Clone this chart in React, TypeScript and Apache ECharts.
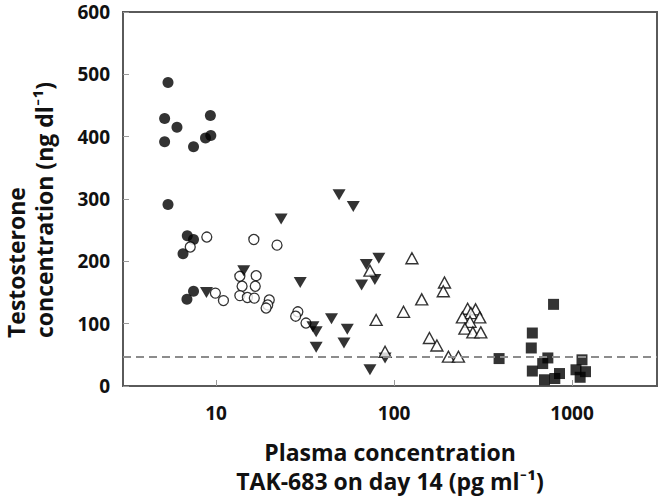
import React, { useEffect, useRef } from 'react';
import * as echarts from 'echarts';

// tick labels / scale
const xTickLabels = [10, 100, 1000];
const yTickLabels = [0, 100, 200, 300, 400, 500, 600];
const threshold = 47;

// [plasma concentration (pg/ml), testosterone (ng/dl)]
const filledCircles: [number, number][] = [
  [5.37, 487], [5.14, 429], [6.03, 415], [9.29, 434], [5.14, 392], [7.47, 384],
  [8.72, 398], [9.34, 402], [5.37, 291], [6.89, 241], [7.47, 235], [6.52, 212],
  [7.47, 152], [6.86, 139],
];
const openCircles: [number, number][] = [
  [8.87, 239], [7.16, 223], [9.91, 149], [11.0, 137], [16.3, 235], [22.0, 226],
  [13.6, 176], [16.8, 177], [14.0, 160], [16.6, 160], [13.6, 145], [15.0, 142],
  [16.4, 141], [19.9, 138], [19.5, 130], [19.1, 125], [28.8, 119], [28.0, 112],
  [32.0, 101],
];
const filledDownTriangles: [number, number][] = [
  [8.83, 150], [23.2, 268], [14.3, 185], [29.7, 166], [35.0, 95], [36.5, 87],
  [36.5, 62], [49.1, 307], [59.0, 288], [82.1, 205], [69.8, 195], [78.0, 171],
  [65.7, 162], [44.5, 108], [54.6, 91], [52.3, 69], [73.2, 26], [89.0, 45],
];
const openUpTriangles: [number, number][] = [
  [73.2, 185], [126, 205], [192, 166], [189, 152], [143, 139], [113, 119],
  [79.3, 106], [89.0, 55], [158, 77], [174, 65], [202, 47], [230, 47],
  [259, 124], [287, 123], [270, 117], [242, 110], [303, 110], [267, 103],
  [250, 92], [277, 86], [307, 86],
];
const filledSquares: [number, number][] = [
  [389, 44], [598, 85], [590, 61], [787, 131], [731, 45], [684, 36], [598, 24],
  [700, 10], [850, 20], [800, 12], [1137, 42], [1052, 26], [1190, 23], [1110, 14],
];

export default function App() {
  const ref = useRef<HTMLDivElement>(null);

  useEffect(() => {
    const chart = echarts.init(ref.current as HTMLDivElement, null, { renderer: 'svg' });
    const font = '"Open Sans", Lato, sans-serif';
    const axisColor = '#5a5a5a';
    const labelStyle = { fontFamily: font, fontWeight: 'bold', fontSize: 19, color: '#111' };
    const titleStyle = { fontFamily: font, fontWeight: 'bold', fontSize: 23, color: '#111' };

    const isTick = (v: number) =>
      xTickLabels.some((t) => Math.abs(Math.log10(v) - Math.log10(t)) < 1e-6);

    const option = {
      animation: false,
      backgroundColor: '#ffffff',
      grid: {
        left: 123, right: 3, top: 12, bottom: 106,
        show: true, borderColor: axisColor, borderWidth: 2,
      },
      xAxis: {
        type: 'log',
        logBase: 10,
        min: 3,
        max: 3000,
        name: 'Plasma concentration\nTAK-683 on day 14 (pg ml⁻¹)',
        nameLocation: 'middle',
        nameGap: 51,
        nameTextStyle: { ...titleStyle, lineHeight: 29 },
        axisLine: { lineStyle: { color: axisColor, width: 2 } },
        axisTick: { inside: true, length: 6, lineStyle: { color: '#999', width: 1 } },
        axisLabel: {
          ...labelStyle,
          margin: 17,
          showMinLabel: false,
          showMaxLabel: false,
          formatter: (v: number) => (isTick(v) ? String(Math.round(v)) : ''),
        },
        splitLine: { show: false },
      },
      yAxis: {
        type: 'value',
        min: yTickLabels[0],
        max: yTickLabels[yTickLabels.length - 1],
        interval: 100,
        axisLine: { show: true, lineStyle: { color: axisColor, width: 2 } },
        axisTick: { show: true, inside: true, length: 6, lineStyle: { color: '#999', width: 1 } },
        axisLabel: { ...labelStyle, margin: 13 },
        splitLine: { show: false },
      },
      graphic: [
        {
          type: 'text', x: 16, y: 338, rotation: Math.PI / 2,
          style: {
            text: 'Testosterone', font: `bold 23px ${font}`, fill: '#111',
            textAlign: 'left', textVerticalAlign: 'middle',
          },
        },
        {
          type: 'text', x: 44, y: 338, rotation: Math.PI / 2,
          style: {
            text: 'concentration (ng dl⁻¹)', font: `bold 23px ${font}`, fill: '#111',
            textAlign: 'left', textVerticalAlign: 'middle',
          },
        },
      ],
      series: [
        {
          type: 'line',
          data: [],
          z: 1,
          markLine: {
            silent: true,
            symbol: ['none', 'none'],
            label: { show: false },
            lineStyle: { type: [8, 5], color: '#8c8c8c', width: 2 },
            data: [{ yAxis: threshold }],
          },
        },
        {
          type: 'scatter', z: 3, data: filledCircles, symbol: 'circle', symbolSize: 11,
          itemStyle: { color: '#000' },
        },
        {
          type: 'scatter', z: 3, data: openCircles, symbol: 'circle', symbolSize: 10,
          itemStyle: { color: '#fff', borderColor: '#000', borderWidth: 1.3 },
        },
        {
          type: 'scatter', z: 3, data: filledDownTriangles, symbol: 'triangle',
          symbolSize: [13, 11], symbolRotate: 180,
          itemStyle: { color: '#000' },
        },
        {
          type: 'scatter', z: 3, data: openUpTriangles, symbol: 'triangle',
          symbolSize: [12, 11],
          itemStyle: { color: '#fff', borderColor: '#000', borderWidth: 1.4 },
        },
        {
          type: 'scatter', z: 3, data: filledSquares, symbol: 'rect', symbolSize: 11,
          itemStyle: { color: '#000' },
        },
      ],
    };

    chart.setOption(option as any);
    return () => chart.dispose();
  }, []);

  return (
    <div
      ref={ref}
      style={{ position: 'fixed', left: 0, top: 0, width: 660, height: 500, background: '#fff' }}
    />
  );
}
